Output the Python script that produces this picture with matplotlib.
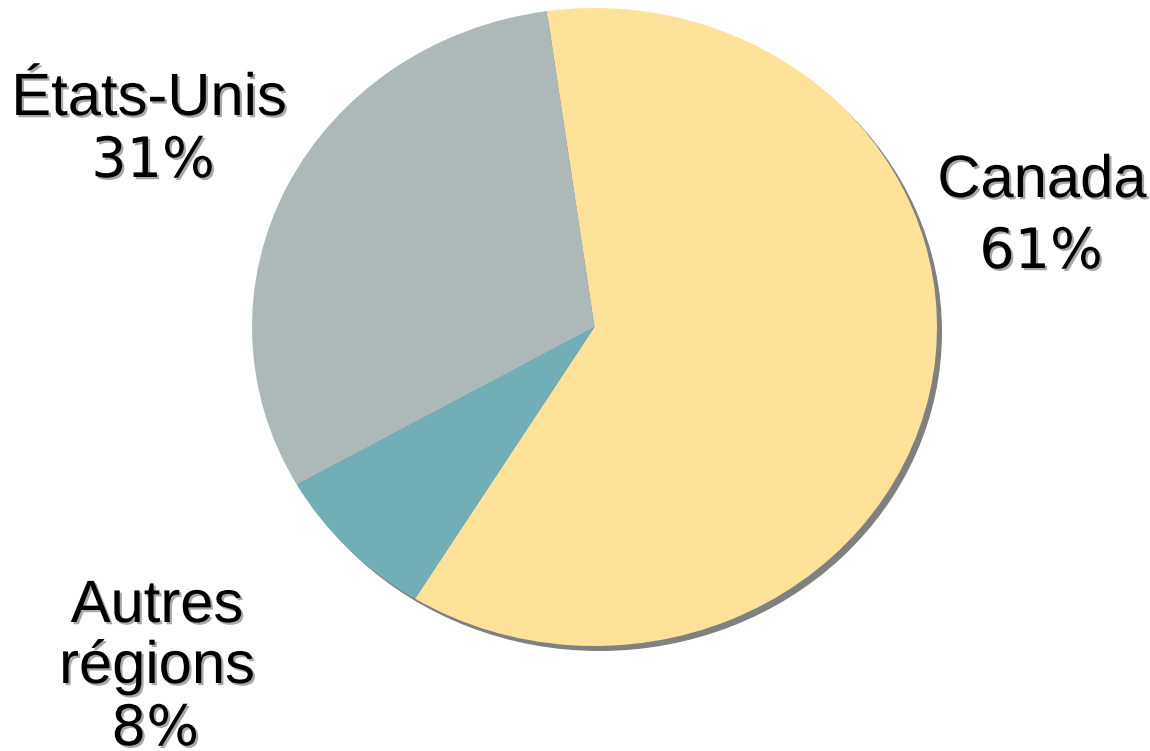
import matplotlib
matplotlib.use("Agg")
import matplotlib.pyplot as plt
import matplotlib.patheffects as pe
from matplotlib.patches import Ellipse
from matplotlib.transforms import ScaledTranslation

categories = ["Canada", "Autres\nrégions", "États-Unis"]
values = [61, 8, 31]
colors = ["#FFE29A", "#72AEB5", "#ADB9B9"]

W, H = 1150, 751
fig = plt.figure(figsize=(W / 100, H / 100), dpi=100)
fig.patch.set_facecolor("white")

# pie bbox in pixels
x0, x1, y0, y1 = 252, 937, 8, 646
ax = fig.add_axes([x0 / W, 1 - y1 / H, (x1 - x0) / W, (y1 - y0) / H])
ax.axis("off")

shadow = Ellipse((0, 0), 2, 2, facecolor="#808080", edgecolor="none", zorder=0, clip_on=False,
                 transform=ax.transData + ScaledTranslation(0.05, -0.05, fig.dpi_scale_trans))
ax.add_patch(shadow)
wedges, _ = ax.pie(values, colors=colors, startangle=98, counterclock=False,
                   wedgeprops=dict(linewidth=0, antialiased=True))
for w in wedges:
    w.set_zorder(1)
ax.set_aspect("auto")
ax.set_xlim(-1, 1)
ax.set_ylim(-1, 1)

# label line placement (center x, baseline y per line) in pixels
label_lines = {
    "Canada": [(1042, 197), (1041, 268)],
    "Autres\nrégions": [(157, 622), (157, 683), (155, 745)],
    "États-Unis": [(149, 115), (153, 177)],
}

effects = [pe.SimplePatchShadow(offset=(1.6, -1.6), shadow_rgbFace="#a8a8a8", alpha=1.0), pe.Normal()]
for cat, v in zip(categories, values):
    lines = cat.split("\n") + [f"{v}%"]
    for i, (txt, (x, y)) in enumerate(zip(lines, label_lines[cat])):
        is_pct = i == len(lines) - 1
        fig.text(x / W, 1 - y / H, txt, ha="center", va="baseline",
                 fontsize=40 if is_pct else 43,
                 family="DejaVu Sans" if is_pct else "Liberation Sans",
                 path_effects=effects)

fig.savefig("out.png", dpi=100)
